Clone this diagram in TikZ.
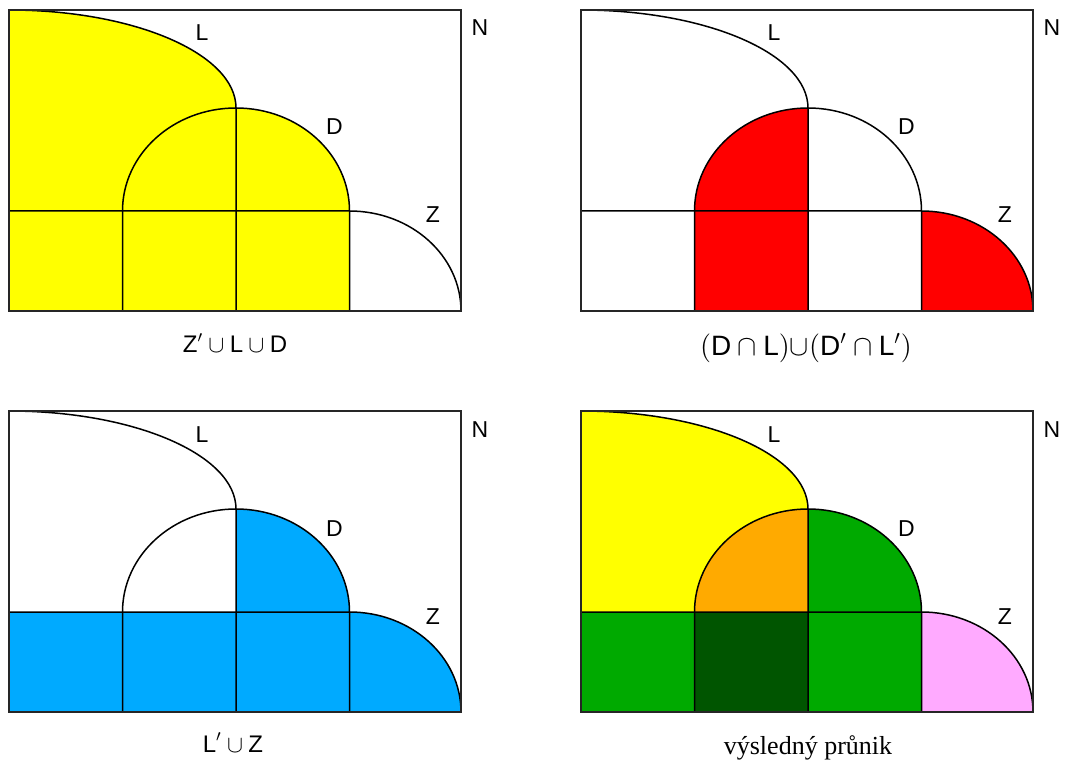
\documentclass[tikz,border=0pt]{standalone}
\usepackage{fontspec}
\setmainfont{Liberation Sans}
\newfontfamily\capserif{Liberation Serif}
\usetikzlibrary{positioning}
\definecolor{setyellow}{HTML}{FFFF00}
\definecolor{setred}{HTML}{FF0000}
\definecolor{setblue}{HTML}{00AAFF}
\definecolor{setgreen}{HTML}{00AA00}
\definecolor{setdarkgreen}{HTML}{005500}
\definecolor{setorange}{HTML}{FFAA00}
\definecolor{setpink}{HTML}{FFAAFF}
\tikzset{
  frame/.style={draw=black!85, line width=1pt},
  part/.style={draw=black, line width=0.75pt},
  setlabel/.style={inner sep=0pt, anchor=base, font=\fontsize{11.5}{13}\selectfont},
  caption/.style={inner sep=0pt, anchor=base, font=\fontsize{12}{14}\selectfont},
  bigcap/.style={caption, font=\fontsize{14}{16}\selectfont},
  serifcap/.style={caption, font=\fontsize{13}{15}\capserif}
}
\newcommand{\tn}[1]{\textnormal{#1}}
\newcommand{\cellA}[1]{\fill[#1] (0,100) -- (0,301) arc[start angle=90, end angle=0, x radius=227, y radius=98]
  arc[start angle=90, end angle=180, x radius=113.5, y radius=103] -- cycle;}
\newcommand{\cellB}[1]{\fill[#1] (113.5,100) arc[start angle=180, end angle=90, x radius=113.5, y radius=103] -- (227,100) -- cycle;}
\newcommand{\cellC}[1]{\fill[#1] (227,100) -- (227,203) arc[start angle=90, end angle=0, x radius=113.5, y radius=103] -- cycle;}
\newcommand{\stripA}[1]{\fill[#1] (0,0) rectangle (113.5,100);}
\newcommand{\stripB}[1]{\fill[#1] (113.5,0) rectangle (227,100);}
\newcommand{\stripC}[1]{\fill[#1] (227,0) rectangle (340.5,100);}
\newcommand{\cellZ}[1]{\fill[#1] (340.5,0) -- (340.5,100) arc[start angle=90, end angle=0, x radius=111.5, y radius=100] -- cycle;}
\newcommand{\setpanel}[1]{
  \draw[part] (0,301) arc[start angle=90, end angle=0, x radius=227, y radius=98] -- (227,0);
  \draw[part] (113.5,0) -- (113.5,100) arc[start angle=180, end angle=0, x radius=113.5, y radius=103] -- (340.5,0);
  \draw[part] (0,100) -- (340.5,100) arc[start angle=90, end angle=0, x radius=111.5, y radius=100];
  \draw[frame] (0,0) rectangle (452,301);
  \node[setlabel] (#1L) at (193,270) {L};
  \node[setlabel] (#1D) at (325.5,176) {D};
  \node[setlabel] (#1Z) at (424,88) {Z};
  \node[setlabel] (#1N) at (471,275) {N};
}

\begin{document}
\begin{tikzpicture}[x=0.5pt, y=0.5pt]
  \useasboundingbox (0,0) rectangle (1067,762);
  \begin{scope}[shift={(9,451)}]
    \cellA{setyellow} \cellB{setyellow} \cellC{setyellow}
    \stripA{setyellow} \stripB{setyellow} \stripC{setyellow}
    \setpanel{tl}
    \node[caption] (tlcap) at (226,-42) {$\tn{Z}'\cup\tn{L}\cup\tn{D}$};
  \end{scope}
  \begin{scope}[shift={(581,451)}]
    \cellB{setred} \stripB{setred} \cellZ{setred}
    \setpanel{tr}
    \node[bigcap] (trcap) at (225,-45) {$\bigl(\tn{D}\cap\tn{L}\bigr){\cup}\bigl(\tn{D}'\cap\tn{L}'\bigr)$};
  \end{scope}
  \begin{scope}[shift={(9,50)}]
    \cellC{setblue} \stripA{setblue} \stripB{setblue} \stripC{setblue} \cellZ{setblue}
    \setpanel{bl}
    \node[caption] (blcap) at (224,-40) {$\tn{L}'\cup\tn{Z}$};
  \end{scope}
  \begin{scope}[shift={(581,50)}]
    \cellA{setyellow} \cellB{setorange} \cellC{setgreen}
    \stripA{setgreen} \stripB{setdarkgreen} \stripC{setgreen} \cellZ{setpink}
    \setpanel{br}
    \node[serifcap] (brcap) at (227,-42) {výsledný průnik};
  \end{scope}
\end{tikzpicture}
\end{document}
